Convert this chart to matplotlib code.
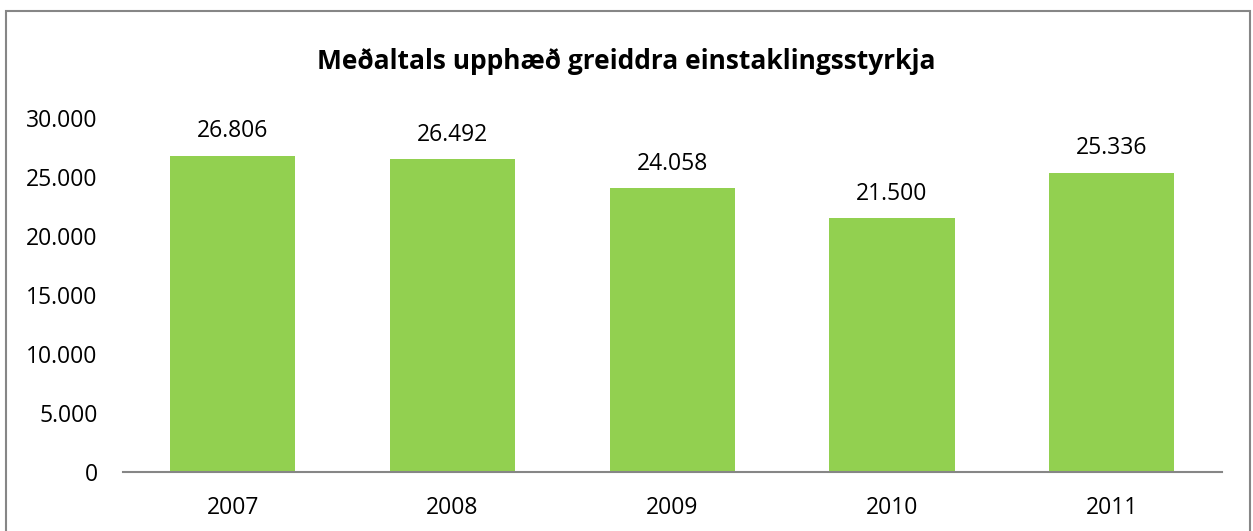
import matplotlib.pyplot as plt
from matplotlib.patches import Rectangle

years = ["2007", "2008", "2009", "2010", "2011"]
amounts = [26806, 26492, 24058, 21500, 25336]
yticks = [0, 5000, 10000, 15000, 20000, 25000, 30000]


def fmt(v):
    # Icelandic thousands separator
    return f"{v:,.0f}".replace(",", ".")


plt.rcParams['font.family'] = ['Open Sans', 'DejaVu Sans']

fig = plt.figure(figsize=(12.53, 5.31), dpi=100)
ax = fig.add_axes([0.098, 0.111, 0.877, 0.667])

x = range(len(years))
bars = ax.bar(x, amounts, width=0.57, color="#92D050")
for b, v in zip(bars, amounts):
    ax.annotate(fmt(v), (b.get_x() + b.get_width() / 2, v), xytext=(0, 9),
                textcoords="offset points", ha="center", va="bottom", fontsize=16.5)

ax.set_xlim(-0.5, len(years) - 0.5)
ax.set_ylim(0, 30000)
ax.set_xticks(list(x))
ax.set_xticklabels(years, fontsize=16.5)
ax.set_yticks(yticks)
ax.set_yticklabels([fmt(t) for t in yticks], fontsize=16.5)
ax.tick_params(length=0)
ax.tick_params(axis="x", pad=17)
ax.tick_params(axis="y", pad=18)

for s in ["top", "right", "left"]:
    ax.spines[s].set_visible(False)
ax.spines["bottom"].set_color("#868686")
ax.spines["bottom"].set_linewidth(1.5)

fig.text(0.5, 0.885, "Meðaltals upphæð greiddra einstaklingsstyrkja",
         ha="center", va="center", fontsize=19, fontweight="bold")

# outer chart frame (bottom edge falls outside the picture)
fig.patches.append(Rectangle((0.005, -0.02), 0.993, 0.999, transform=fig.transFigure,
                             fill=False, edgecolor="#868686", linewidth=1.5))

fig.savefig("out.png", dpi=100)
